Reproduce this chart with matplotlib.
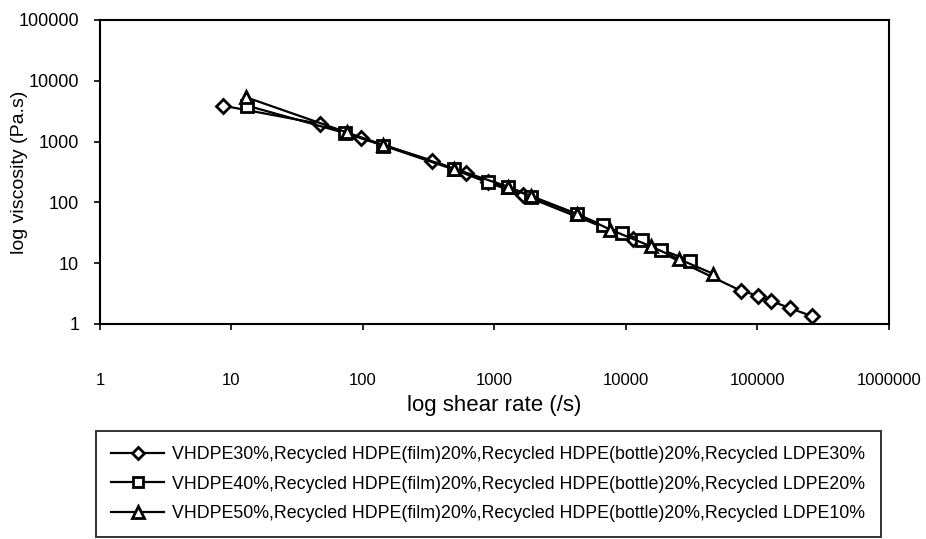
import matplotlib as mpl
mpl.use('Agg')
import matplotlib.pyplot as plt
from matplotlib.ticker import FixedLocator, NullLocator

plt.rcParams['font.family'] = ['Liberation Sans', 'DejaVu Sans']

# shear rate (1/s) and viscosity (Pa.s) for the three blends
rate_30 = [8.6, 47, 96, 335, 612, 885, 1640, 11400, 74800, 100300, 127000, 175700, 260600]
visc_30 = [3900, 1960, 1160, 488, 299, 214, 132, 24.8, 3.52, 2.94, 2.39, 1.83, 1.34]

rate_40 = [13.1, 72.7, 143, 491, 885, 1259, 1902, 4213, 6740, 9330, 13300, 18400, 30800]
visc_40 = [3910, 1387, 859, 348, 214, 179, 125, 64, 41.9, 30.9, 24.3, 16.8, 11.0]

rate_50 = [12.8, 75, 143, 491, 1259, 1902, 4213, 7590, 15400, 25400, 45800]
visc_50 = [5400, 1420, 880, 360, 182, 127, 65, 35.7, 19.0, 11.6, 6.73]

labels = [
    'VHDPE30%,Recycled HDPE(film)20%,Recycled HDPE(bottle)20%,Recycled LDPE30%',
    'VHDPE40%,Recycled HDPE(film)20%,Recycled HDPE(bottle)20%,Recycled LDPE20%',
    'VHDPE50%,Recycled HDPE(film)20%,Recycled HDPE(bottle)20%,Recycled LDPE10%',
]
x_ticks = [1, 10, 100, 1000, 10000, 100000, 1000000]
y_ticks = [1, 10, 100, 1000, 10000, 100000]

fig = plt.figure(figsize=(9.26, 5.39), dpi=100)
ax = fig.add_axes([100 / 926, 1 - 324 / 539, 789 / 926, 304 / 539])

style = dict(color='black', lw=1.6, mfc='white', mec='black', mew=2.0)
ax.plot(rate_30, visc_30, marker='D', ms=7, label=labels[0], **style)
ax.plot(rate_40, visc_40, marker='s', ms=8, label=labels[1], **style)
ax.plot(rate_50, visc_50, marker='^', ms=9, label=labels[2], **style)

ax.set_xscale('log')
ax.set_yscale('log')
ax.set_xlim(1, 1e6)
ax.set_ylim(1, 1e5)
ax.xaxis.set_major_locator(FixedLocator(x_ticks))
ax.yaxis.set_major_locator(FixedLocator(y_ticks))
ax.xaxis.set_minor_locator(NullLocator())
ax.yaxis.set_minor_locator(NullLocator())
ax.set_xticklabels([str(v) for v in x_ticks])
ax.set_yticklabels([str(v) for v in y_ticks])
ax.tick_params(axis='x', direction='out', length=4, width=1.2, pad=31, labelsize=12)
ax.tick_params(axis='y', direction='out', length=4, width=1.2, pad=11, labelsize=13)
for s in ax.spines.values():
    s.set_linewidth(1.5)

ax.set_xlabel('log shear rate (/s)', fontsize=16, labelpad=5)
ax.set_ylabel('log viscosity (Pa.s)', fontsize=14)
ax.yaxis.set_label_coords(-72 / 789, 0.5)

leg = fig.legend(loc='upper left', bbox_to_anchor=(96 / 926, 1 - 431 / 539),
                 borderaxespad=0, ncol=1, fontsize=12.8, frameon=True,
                 fancybox=False, edgecolor='black', borderpad=0.85,
                 labelspacing=0.7, handlelength=3.0, handletextpad=0.45,
                 markerscale=0.9)
leg.get_frame().set_linewidth(1.4)

fig.savefig('out.png', dpi=100)
